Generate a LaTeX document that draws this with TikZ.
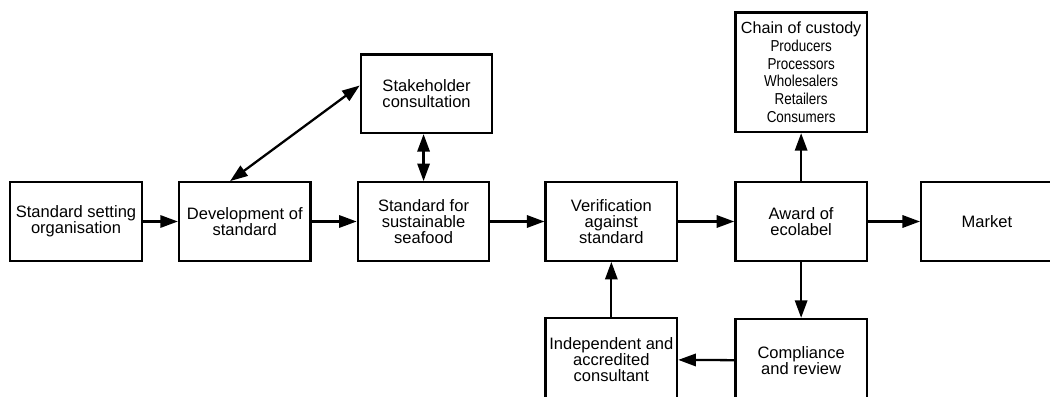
\documentclass[tikz,border=0pt]{standalone}
\usepackage{fontspec}
\setmainfont{Liberation Sans}
\newfontfamily\condfont[FakeStretch=0.85]{Liberation Sans}
\usepackage{tikz}
\usetikzlibrary{arrows.meta, positioning}

\begin{document}
\begin{tikzpicture}[
  node distance=0.9cm and 0.9cm,
  box/.style={rectangle, draw, line width=1.3pt, fill=white, minimum width=2.63cm,
              minimum height=1.57cm, inner sep=2pt, align=center,
              font=\fontsize{9.4}{9.2}\selectfont},
  arr/.style={-{Triangle[length=10pt, width=7pt]}, line width=1.3pt},
  darr/.style={{Triangle[length=10pt, width=7pt]}-{Triangle[length=10pt, width=7pt]}, line width=1.3pt},
]
\useasboundingbox (-1.52,-3.51) rectangle (19.48,4.43);

% Main row
\node[box] (sso) at (0,0) {Standard setting\\organisation};
\node[box, right=0.7cm of sso] (dev) {Development of\\standard};
\node[box, right=0.9cm of dev] (std) {Standard for\\sustainable\\seafood};
\node[box, right=1.08cm of std] (verif) {Verification\\against\\standard};
\node[box, right=1.12cm of verif] (award) {Award of\\ecolabel};
\node[box, right=1.04cm of award] (market) {Market};

% Upper row
\node[box, above=0.94cm of std, xshift=0.06cm] (stake) {Stakeholder\\consultation};
\node[box, above=0.96cm of award, minimum height=2.39cm,
      font=\fontsize{9}{10.2}\selectfont] (chain)
  {{\fontsize{9.2}{10.2}\selectfont Chain of custody}\\
   \condfont Producers\\\condfont Processors\\\condfont Wholesalers\\
   \condfont Retailers\\\condfont Consumers};

% Lower row
\node[box, below=1.1cm of verif, minimum height=1.66cm] (indep) {Independent and\\accredited\\consultant};
\node[box, below=1.12cm of award, minimum height=1.66cm] (comp) {Compliance\\and review};

% Arrows: main flow
\draw[arr] (sso) -- (dev);
\draw[arr] (dev) -- (std);
\draw[arr] (std) -- (verif);
\draw[arr] (verif) -- (award);
\draw[arr] (award) -- (market);

% Arrows: consultation
\draw[darr] (dev.110) -- (stake.173);
\draw[darr] (std) -- (std |- stake.south);

% Arrows: ecolabel loop
\draw[arr] (award) -- (chain);
\draw[arr] (award) -- (comp);
\draw[arr] (comp) -- (indep);
\draw[arr] (indep) -- (verif);

\end{tikzpicture}
\end{document}
